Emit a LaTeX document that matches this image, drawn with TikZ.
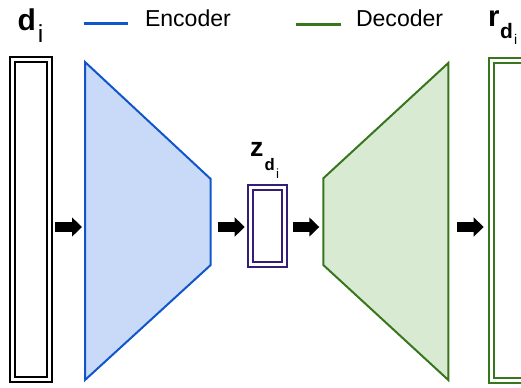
\documentclass[tikz,border=0pt]{standalone}
\usepackage{fontspec}
\setmainfont{Liberation Sans}
\usetikzlibrary{arrows.meta,calc}

\definecolor{encblue}{HTML}{1155CC}
\definecolor{encfill}{HTML}{C9DAF8}
\definecolor{decgreen}{HTML}{38761D}
\definecolor{decfill}{HTML}{D9EAD3}
\definecolor{latpurple}{HTML}{351C75}

\tikzset{every picture/.style={line width=1.5pt}}

\begin{document}
\begin{tikzpicture}[x=0.75pt,y=0.75pt,yscale=-1,xscale=1,
	vecbox/.style={draw, double=white, double distance=2.25pt, inner sep=0pt},
	fatarrow/.style={line width=7.5pt, -{Triangle[length=7.5pt,width=14pt]}},
	lbl/.style={anchor=base west, inner sep=0pt},
	legendtxt/.style={lbl, font=\fontsize{17.3}{20}\selectfont}]
	%set diagram to 521 x 387
	\path[use as bounding box] (0,0) rectangle (521,387);
	\clip (0,0) rectangle (521,387);

	%Shape: Encoder trapezoid
	\draw [encblue, fill=encfill] (85,62) -- (210.7,179) -- (210.7,265) -- (85,380) -- cycle ;
	\coordinate (encL) at (85,227);
	\coordinate (encR) at (210.7,227);
	%Shape: Decoder trapezoid
	\draw [decgreen, fill=decfill] (448.3,63) -- (323.3,178.3) -- (323.3,265) -- (448.3,380) -- cycle ;
	\coordinate (decL) at (323.3,227);
	\coordinate (decR) at (448.3,227);

	%Input, code and output vectors
	\node [vecbox, minimum width=27.6pt, minimum height=240pt] (din) at (31,219.2) {};
	\node [vecbox, latpurple, minimum width=25.6pt, minimum height=57.5pt] (zd) at (267.8,225.9) {};
	\node [vecbox, decgreen, minimum width=27.6pt, minimum height=240.2pt] (rd) at (510.1,220.6) {};

	%Block arrows
	\draw [fatarrow] ($(din.east |- encL)+(5,0)$) -- ($(encL)+(-3,0)$) ;
	\draw [fatarrow] ($(encR)+(7,0)$) -- ($(zd.west |- encR)+(-5,0)$) ;
	\draw [fatarrow] ($(zd.east |- decL)+(7,0)$) -- ($(decL)+(-4,0)$) ;
	\draw [fatarrow] ($(decR)+(9,0)$) -- ($(rd.west |- decR)+(-7,0)$) ;

	%Legend
	\draw [encblue, line width=2.25pt] (84,23.5) -- (128,23.5) ;
	\draw [decgreen, line width=2.25pt] (296,24) -- (341,24) ;
	% Text Node
	\node [legendtxt] (enctxt) at (144,26) {Encoder};
	% Text Node
	\node [legendtxt] (dectxt) at (355,26) {Decoder};

	% Text Node
	\node [lbl] (dlbl) at (16.5,30) {\fontsize{22.5}{22}\selectfont\bfseries d\kern1.5pt\raisebox{-9pt}{\fontsize{18.5}{18}\selectfont\mdseries i}};
	% Text Node
	\node [lbl] (zlbl) at (249,156.7) {\fontsize{20}{20}\selectfont\bfseries z\kern1pt\raisebox{-10.7pt}{\fontsize{12.5}{12}\selectfont d\kern1pt\raisebox{-6pt}{\fontsize{10}{10}\selectfont\mdseries i}}};
	% Text Node
	\node [lbl] (rlbl) at (487,26) {\fontsize{22}{22}\selectfont\bfseries r\kern0.5pt\raisebox{-9.2pt}{\fontsize{15.7}{15}\selectfont d\kern1pt\raisebox{-5pt}{\fontsize{10.5}{10}\selectfont\mdseries i}}};

\end{tikzpicture}
\end{document}
